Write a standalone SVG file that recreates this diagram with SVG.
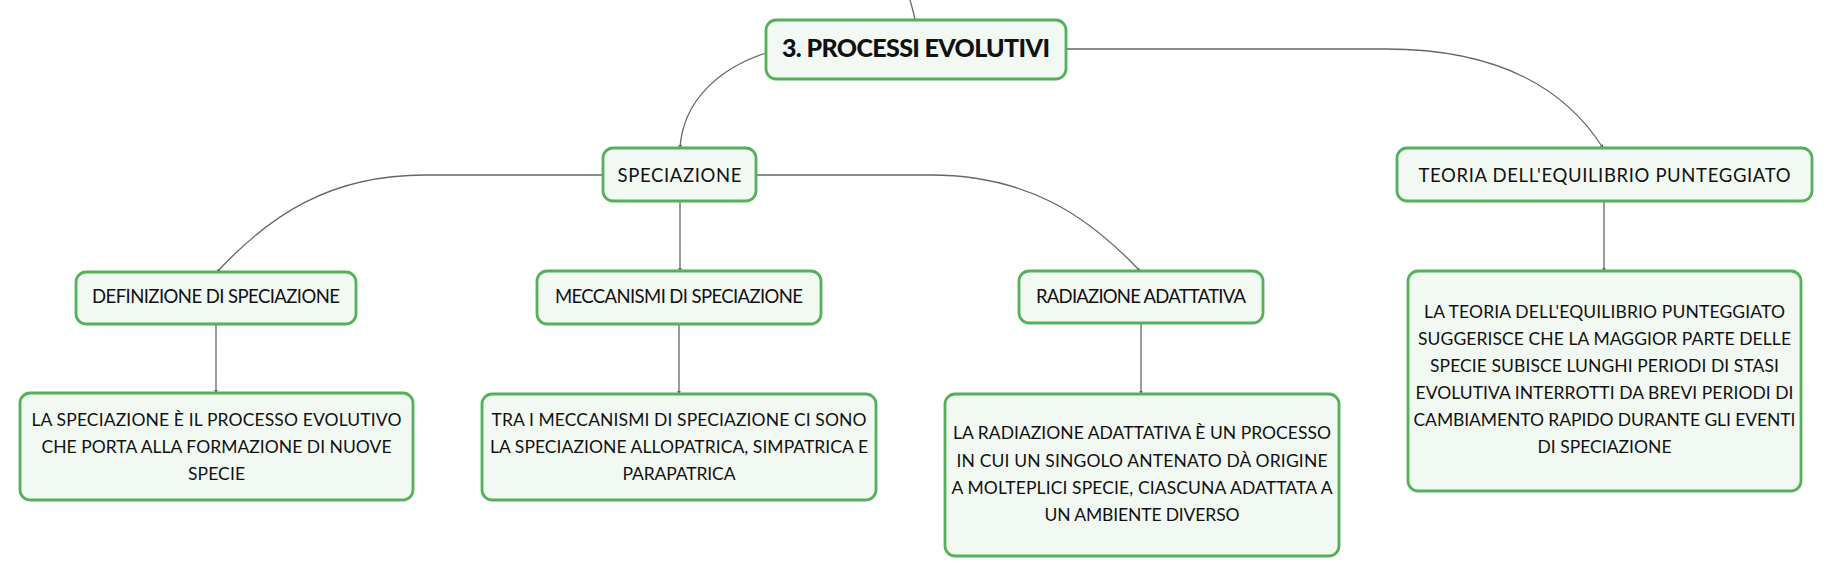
<svg xmlns="http://www.w3.org/2000/svg" width="1832" height="577" viewBox="0 0 1832 577">
<style>
.node rect{fill:#f2f9f3;stroke:#55b05a;stroke-width:2.8}
.node text{font-family:Lato,"Noto Sans",sans-serif;font-size:17.5px;fill:#111;text-anchor:middle}
.node text.lbl{font-size:18.5px}
.node text.title{font-size:25px;font-weight:900}
#connectors path{fill:none;stroke:#666;stroke-width:1.3;marker-end:url(#arr)}
</style>
<defs>
<marker id="arr" viewBox="0 0 6 6" refX="5" refY="3" markerWidth="4" markerHeight="4" orient="auto" markerUnits="userSpaceOnUse">
<path d="M0,0 L6,3 L0,6 z" fill="#666"/>
</marker>
</defs>
<rect width="1832" height="577" fill="#fff"/>
<g id="connectors">
<path d="M910 0 Q913 10 915 19" style="marker-end:none"/>
<path d="M766 53 C720 68 683 100 680 148"/>
<path d="M1066 49 H1386 C1486 49 1560 80 1603 148"/>
<path d="M603 175 H425 C330 175 270 215 217 272"/>
<path d="M756 175 H930 C1027 175 1087 215 1140 271"/>
<path d="M680 201 V271"/>
<path d="M216 324 V393"/>
<path d="M679 324 V394"/>
<path d="M1141 323 V394"/>
<path d="M1604 201 V271"/>
</g>
<g id="n-main" class="node">
<rect x="766" y="20" width="300" height="59" rx="10"/>
<text class="title" x="916" y="57" textLength="268">3. PROCESSI EVOLUTIVI</text>
</g>
<g id="n-speciazione" class="node">
<rect x="603" y="148" width="153" height="53" rx="10"/>
<text class="lbl" x="679.5" y="182" textLength="124">SPECIAZIONE</text>
</g>
<g id="n-teoria" class="node">
<rect x="1397" y="148" width="415" height="53" rx="10"/>
<text class="lbl" x="1604.5" y="182" textLength="372">TEORIA DELL'EQUILIBRIO PUNTEGGIATO</text>
</g>
<g id="n-definizione" class="node">
<rect x="76" y="272" width="280" height="52" rx="10"/>
<text class="lbl" x="216" y="303" textLength="248">DEFINIZIONE DI SPECIAZIONE</text>
</g>
<g id="n-meccanismi" class="node">
<rect x="537" y="271" width="284" height="53" rx="10"/>
<text class="lbl" x="679" y="303" textLength="248">MECCANISMI DI SPECIAZIONE</text>
</g>
<g id="n-radiazione" class="node">
<rect x="1019" y="271" width="244" height="52" rx="10"/>
<text class="lbl" x="1141" y="303" textLength="210">RADIAZIONE ADATTATIVA</text>
</g>
<g id="n-def-desc" class="node">
<rect x="20" y="393" width="393" height="107" rx="10"/>
<text x="216.5" y="426" textLength="370">LA SPECIAZIONE È IL PROCESSO EVOLUTIVO</text>
<text x="216.5" y="453" textLength="350">CHE PORTA ALLA FORMAZIONE DI NUOVE</text>
<text x="216.5" y="480" textLength="57">SPECIE</text>
</g>
<g id="n-mec-desc" class="node">
<rect x="482" y="394" width="394" height="106" rx="10"/>
<text x="679" y="426" textLength="375">TRA I MECCANISMI DI SPECIAZIONE CI SONO</text>
<text x="679" y="453" textLength="378">LA SPECIAZIONE ALLOPATRICA, SIMPATRICA E</text>
<text x="679" y="480" textLength="113">PARAPATRICA</text>
</g>
<g id="n-rad-desc" class="node">
<rect x="945" y="394" width="394" height="162" rx="10"/>
<text x="1142" y="439" textLength="378">LA RADIAZIONE ADATTATIVA È UN PROCESSO</text>
<text x="1142" y="467" textLength="371">IN CUI UN SINGOLO ANTENATO DÀ ORIGINE</text>
<text x="1142" y="494" textLength="381">A MOLTEPLICI SPECIE, CIASCUNA ADATTATA A</text>
<text x="1142" y="521" textLength="195">UN AMBIENTE DIVERSO</text>
</g>
<g id="n-teo-desc" class="node">
<rect x="1408" y="271" width="393" height="220" rx="10"/>
<text x="1604.5" y="318" textLength="361">LA TEORIA DELL'EQUILIBRIO PUNTEGGIATO</text>
<text x="1604.5" y="345" textLength="373">SUGGERISCE CHE LA MAGGIOR PARTE DELLE</text>
<text x="1604.5" y="372" textLength="349">SPECIE SUBISCE LUNGHI PERIODI DI STASI</text>
<text x="1604.5" y="399" textLength="378">EVOLUTIVA INTERROTTI DA BREVI PERIODI DI</text>
<text x="1604.5" y="426" textLength="382">CAMBIAMENTO RAPIDO DURANTE GLI EVENTI</text>
<text x="1604.5" y="453" textLength="134">DI SPECIAZIONE</text>
</g>
</svg>
